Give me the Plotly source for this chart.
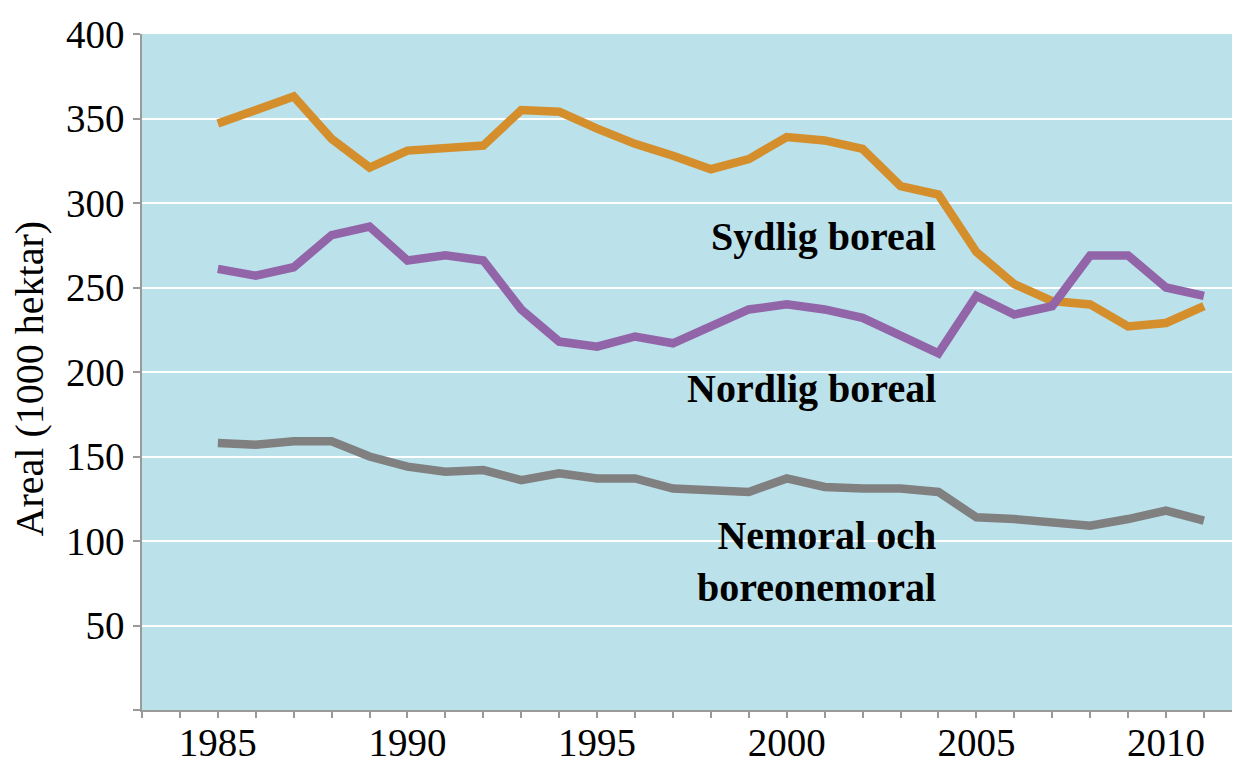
import plotly.graph_objects as go

years = [1985, 1986, 1987, 1988, 1989, 1990, 1991, 1992, 1993, 1994, 1995, 1996, 1997, 1998,
         1999, 2000, 2001, 2002, 2003, 2004, 2005, 2006, 2007, 2008, 2009, 2010, 2011]
sydlig_boreal = [347, 355, 363, 338, 321, 331, 332, 334, 355, 354, 344, 335, 328, 320,
                 326, 339, 337, 332, 310, 305, 271, 252, 242, 240, 227, 229, 239]
nordlig_boreal = [261, 257, 262, 281, 286, 266, 269, 266, 237, 218, 215, 221, 217, 227,
                  237, 240, 237, 232, 222, 211, 245, 234, 239, 269, 269, 250, 245]
nemoral = [158, 157, 159, 159, 150, 144, 141, 142, 136, 140, 137, 137, 131, 130,
           129, 137, 132, 131, 131, 129, 114, 113, 111, 109, 113, 118, 112]

x_tick_years = [1983, 1984, 1985, 1986, 1987, 1988, 1989, 1990, 1991, 1992, 1993, 1994, 1995,
                1996, 1997, 1998, 1999, 2000, 2001, 2002, 2003, 2004, 2005, 2006, 2007, 2008,
                2009, 2010, 2011]
x_labels = ["1985", "1990", "1995", "2000", "2005", "2010"]
y_ticks = [0, 50, 100, 150, 200, 250, 300, 350, 400]
y_labels = ["", "50", "100", "150", "200", "250", "300", "350", "400"]

series_names = ["Sydlig boreal", "Nordlig boreal", "Nemoral och boreonemoral"]
colors = ["#D48F2C", "#9264A8", "#808080"]

FONT = "Liberation Serif"

fig = go.Figure()
for name, vals, col in zip(series_names, [sydlig_boreal, nordlig_boreal, nemoral], colors):
    fig.add_trace(go.Scatter(x=years, y=vals, mode="lines", name=name,
                             line=dict(color=col, width=8.5)))

fig.add_annotation(x=2004, y=280, xref="x", yref="y", text="<b>Sydlig boreal</b>",
                   showarrow=False, xanchor="right", yanchor="middle",
                   font=dict(family=FONT, size=40, color="black"))
fig.add_annotation(x=2004, y=190, xref="x", yref="y", text="<b>Nordlig boreal</b>",
                   showarrow=False, xanchor="right", yanchor="middle",
                   font=dict(family=FONT, size=40, color="black"))
fig.add_annotation(x=2004, y=88, xref="x", yref="y", text="<b>Nemoral och<br>boreonemoral</b>",
                   showarrow=False, xanchor="right", yanchor="middle", align="right",
                   font=dict(family=FONT, size=40, color="black"))
fig.add_annotation(x=-0.1037, y=0.4905, xref="paper", yref="paper",
                   text="Areal (1000 hektar)", textangle=-90, showarrow=False,
                   xanchor="center", yanchor="middle",
                   font=dict(family=FONT, size=40, color="black"))

fig.update_layout(
    width=1234, height=758,
    margin=dict(l=142, r=2, t=34, b=48, pad=0, autoexpand=False),
    paper_bgcolor="white", plot_bgcolor="#BBE1EB",
    showlegend=False,
    font=dict(family=FONT, size=39, color="black"),
)
fig.update_xaxes(
    range=[1983, 2011.74], tickmode="array", tickvals=x_tick_years,
    ticktext=[str(y) if str(y) in x_labels else "" for y in x_tick_years],
    showgrid=False, zeroline=False, showline=True, linecolor="#9A9A9A", linewidth=1.5,
    ticks="outside", ticklen=6, tickcolor="#9A9A9A", tickwidth=1.5,
    ticklabelstandoff=-9, automargin=False,
    tickfont=dict(family=FONT, size=39, color="black"),
)
fig.update_yaxes(
    range=[0, 400], tickmode="array", tickvals=y_ticks, ticktext=y_labels,
    showgrid=True, gridcolor="white", gridwidth=1.5, zeroline=False,
    showline=True, linecolor="#9A9A9A", linewidth=1.5,
    ticks="outside", ticklen=7, tickcolor="#9A9A9A", tickwidth=1.5,
    ticklabelstandoff=1, automargin=False,
    tickfont=dict(family=FONT, size=39, color="black"),
)

fig.write_html(
    "out.html",
    config={"displayModeBar": False},
    post_script="document.body.style.margin='0px';document.body.style.overflow='hidden';",
)
